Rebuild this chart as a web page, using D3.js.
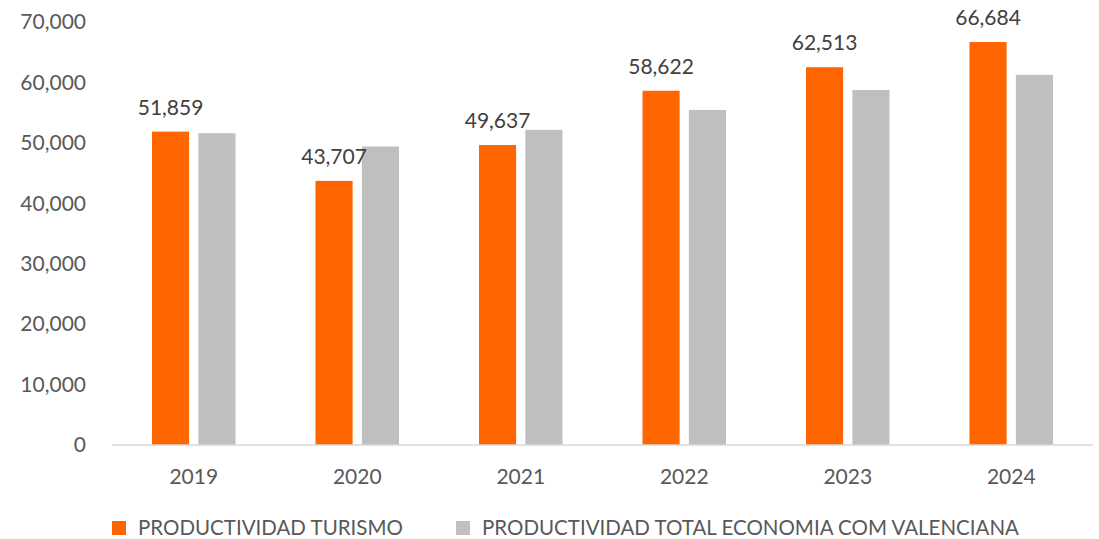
<!DOCTYPE html>
<html>
<head>
<meta charset="utf-8">
<script src="https://cdn.jsdelivr.net/npm/d3@7"></script>
<style>
  body { margin: 0; background: #fff; }
  text { font-family: Lato, "Open Sans", sans-serif; }
</style>
</head>
<body>
<div id="chart"></div>
<script>
const years = ["2019", "2020", "2021", "2022", "2023", "2024"];
const turismo = [51859, 43707, 49637, 58622, 62513, 66684];
const total = [51600, 49400, 52150, 55450, 58750, 61250];
const seriesNames = ["PRODUCTIVIDAD TURISMO", "PRODUCTIVIDAD TOTAL ECONOMIA COM VALENCIANA"];
const seriesColors = ["#ff6600", "#bfbfbf"];
const yTicks = [0, 10000, 20000, 30000, 40000, 50000, 60000, 70000];

const margin = {top: 22, right: 6, bottom: 94, left: 112},
  width = 1099 - margin.left - margin.right,
  height = 539 - margin.top - margin.bottom;

const svg = d3.select("#chart")
  .append("svg")
    .attr("width", 1099)
    .attr("height", 539)
  .append("g")
    .attr("transform", `translate(${margin.left},${margin.top})`);

const x = d3.scaleBand()
  .domain(years)
  .range([0, width]);

const inner = d3.scaleBand()
  .domain([0, 1])
  .range([40, x.bandwidth() - 40])
  .paddingInner(0.2);

const y = d3.scaleLinear()
  .domain([0, 70000])
  .range([height, 0]);

const fmt = d3.format(",");

// y axis labels (no line, no ticks)
svg.append("g")
  .attr("transform", "translate(-23,0)")
  .call(d3.axisLeft(y).tickValues(yTicks).tickFormat(fmt).tickSize(0))
  .call(g => g.select(".domain").remove())
  .selectAll("text")
    .attr("fill", "#595959")
    .style("font-size", "21px");

// bars
const data = years.map((yr, i) => ({year: yr, vals: [turismo[i], total[i]]}));

const groups = svg.selectAll(".grp")
  .data(data)
  .join("g")
    .attr("transform", d => `translate(${x(d.year)},0)`);

groups.selectAll("rect")
  .data(d => d.vals.map((v, k) => ({k, v})))
  .join("rect")
    .attr("x", d => inner(d.k))
    .attr("y", d => y(d.v))
    .attr("width", inner.bandwidth())
    .attr("height", d => height - y(d.v))
    .attr("fill", d => seriesColors[d.k]);

// data labels on the tourism bars
groups.append("text")
  .attr("x", inner(0) + inner.bandwidth() / 2)
  .attr("y", d => y(d.vals[0]) - 17)
  .attr("text-anchor", "middle")
  .attr("fill", "#404040")
  .style("font-size", "21px")
  .text(d => fmt(d.vals[0]));

// x axis
svg.append("line")
  .attr("x1", 0).attr("x2", width)
  .attr("y1", height).attr("y2", height)
  .attr("stroke", "#d9d9d9")
  .attr("stroke-width", 1.5);

svg.append("g")
  .selectAll("text")
  .data(years)
  .join("text")
    .attr("x", d => x(d) + x.bandwidth() / 2)
    .attr("y", height + 39)
    .attr("text-anchor", "middle")
    .attr("fill", "#595959")
    .style("font-size", "21px")
    .text(d => d);

// legend
const legendX = [0, 344];
const legend = svg.append("g")
  .attr("transform", `translate(0,${height + 76})`);

const li = legend.selectAll("g")
  .data(seriesNames)
  .join("g")
    .attr("transform", (d, i) => `translate(${legendX[i]},0)`);

li.append("rect")
  .attr("width", 14).attr("height", 14)
  .attr("fill", (d, i) => seriesColors[i]);

li.append("text")
  .attr("x", 26)
  .attr("y", 14)
  .attr("fill", "#595959")
  .style("font-size", "20.5px")
  .text(d => d);
</script>
</body>
</html>
